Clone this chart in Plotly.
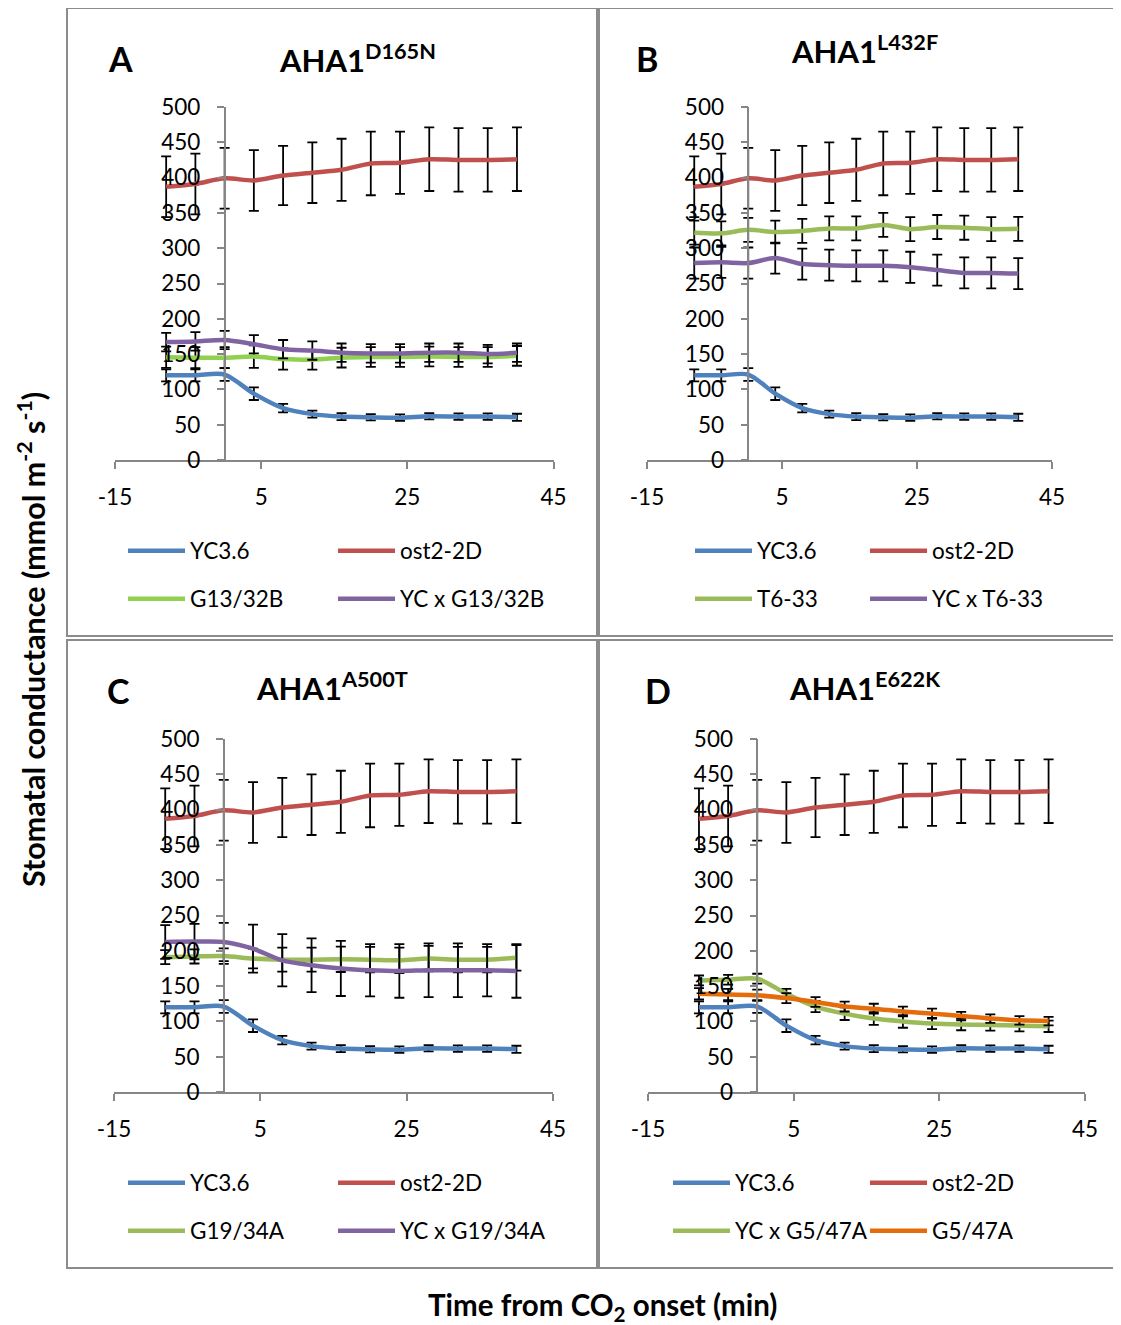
import plotly.graph_objects as go

# ---------------- data ----------------
time_min = [-8, -4, 0, 4, 8, 12, 16, 20, 24, 28, 32, 36, 40]

yc36 = [120, 120, 121, 94, 73.5, 65, 61.5, 60.5, 60, 62, 61.5, 61.5, 60.5]
yc36_err = [8.5, 8.5, 9, 9, 6, 5, 5, 4.5, 4.5, 4.5, 4.5, 4.5, 5]

ost2_2d = [387, 391, 399, 396, 403, 407, 411, 420, 421, 426, 425, 425, 426]
ost2_2d_err = [43, 43, 43, 43, 42, 43, 44, 45, 44, 45, 45, 45, 45]

# Panel A
g13_32b = [145.5, 145, 145, 146.5, 143, 142, 145, 146, 146, 146.5, 146, 146, 147.5]
g13_32b_err = [15, 15, 15, 16, 15, 14, 14, 14, 14, 14, 14, 14, 14]
yc_g13_32b = [167, 168, 170, 164, 157, 155, 152, 151, 151, 152, 152, 150, 152]
yc_g13_32b_err = [13, 13, 13, 13, 13, 13, 13, 13, 13, 13, 13, 13, 13]

# Panel B
t6_33 = [322, 321, 326, 323, 324.5, 328, 328, 333, 327, 330, 329, 327, 327.5]
t6_33_err = [17, 17, 17, 16, 17, 17, 17, 17, 17, 17, 17, 17, 17]
yc_t6_33 = [279, 280, 279, 286, 277.5, 276, 275, 275, 273, 269, 265, 265, 264]
yc_t6_33_err = [22, 22, 22, 22, 22, 22, 22, 22, 22, 22, 22, 22, 22]

# Panel C
g19_34a = [191, 192, 192.5, 189, 187.5, 187.5, 188, 187.5, 186.5, 189, 187.5, 187.5, 190]
g19_34a_err = [10, 10, 11, 14, 17, 17, 18, 18, 18, 18, 18, 18, 18]
yc_g19_34a = [212.5, 213, 212.5, 203, 186.5, 179.5, 175, 172.5, 171.5, 172.5, 172.5, 172.5, 171.5]
yc_g19_34a_err = [24, 25, 27, 34, 37, 38, 39, 37, 38, 38, 38, 37, 38]

# Panel D
yc_g5_47a = [158, 159, 160.5, 139, 121, 111, 104, 100, 97, 95.5, 95, 94, 93]
yc_g5_47a_err = [7, 7, 7, 7, 8, 9, 9, 9, 8, 8, 8, 8, 8]
g5_47a = [139, 138, 137, 133, 127.5, 121, 118, 114, 111, 107.5, 104, 101.5, 100.5]
g5_47a_err = [8, 8, 8, 7, 7, 7, 7, 7, 7, 6, 6, 6, 6]

x_ticks = [-15, 5, 25, 45]
x_tick_labels = ["-15", "5", "25", "45"]
y_ticks = [0, 50, 100, 150, 200, 250, 300, 350, 400, 450, 500]

panel_letters = ["A", "B", "C", "D"]
panel_titles = ["AHA1<sup>D165N</sup>", "AHA1<sup>L432F</sup>",
                "AHA1<sup>A500T</sup>", "AHA1<sup>E622K</sup>"]

BLUE = "#4F81BD"
RED = "#C0504D"
LIME = "#92D050"
OLIVE = "#9BBB59"
PURPLE = "#8064A2"
ORANGE = "#E46C0A"

panels = [
    [("YC3.6", yc36, yc36_err, BLUE), ("ost2-2D", ost2_2d, ost2_2d_err, RED),
     ("G13/32B", g13_32b, g13_32b_err, LIME), ("YC x G13/32B", yc_g13_32b, yc_g13_32b_err, PURPLE)],
    [("YC3.6", yc36, yc36_err, BLUE), ("ost2-2D", ost2_2d, ost2_2d_err, RED),
     ("T6-33", t6_33, t6_33_err, OLIVE), ("YC x T6-33", yc_t6_33, yc_t6_33_err, PURPLE)],
    [("YC3.6", yc36, yc36_err, BLUE), ("ost2-2D", ost2_2d, ost2_2d_err, RED),
     ("G19/34A", g19_34a, g19_34a_err, OLIVE), ("YC x G19/34A", yc_g19_34a, yc_g19_34a_err, PURPLE)],
    [("YC3.6", yc36, yc36_err, BLUE), ("ost2-2D", ost2_2d, ost2_2d_err, RED),
     ("YC x G5/47A", yc_g5_47a, yc_g5_47a_err, OLIVE), ("G5/47A", g5_47a, g5_47a_err, ORANGE)],
]

# ---------------- layout geometry (page pixels) ----------------
# The page body has an 8 px margin, so the figure is 8 px smaller and shifted.
OFF = 8
W, H = 1121 - OFF, 1325 - OFF
def fx(px):
    return (px - OFF) / W
def fy(py):
    return 1 - (py - OFF) / H

# plot areas: (x_left, x_right, y_top(500), y_bottom(0))
areas = [(115, 553.5, 107, 460), (647, 1052, 107, 460),
         (114, 553, 739, 1092), (648, 1085, 739, 1092)]
boxes = [(67, 8, 597, 636), (599, 8, 1130, 636), (67, 640, 597, 1268), (599, 640, 1130, 1268)]
letter_pos = [(120, 58), (647, 58), (118, 690), (658, 690)]
title_pos = [(357, 58), (864, 50), (332, 686), (865, 686)]
legend_cols = [(128, 338), (695, 870), (128, 338), (673, 870)]
legend_rows = [(551, 599), (551, 599), (1183, 1231), (1183, 1231)]

FONT = "Lato"
fig = go.Figure()
layout = dict(width=W, height=H,
              margin=dict(l=0, r=0, t=0, b=0, pad=0, autoexpand=False),
              template="none",
              paper_bgcolor="white", plot_bgcolor="rgba(0,0,0,0)",
              font=dict(family=FONT, size=22, color="black"),
              showlegend=True)

leg_idx = 0
for p, series in enumerate(panels):
    xl, xr, yt, yb = areas[p]
    xa = "x" if p == 0 else f"x{p+1}"
    ya = "y" if p == 0 else f"y{p+1}"
    xname = "xaxis" if p == 0 else f"xaxis{p+1}"
    yname = "yaxis" if p == 0 else f"yaxis{p+1}"
    zero_px = xl + (0 - (-15)) / 60 * (xr - xl)
    layout[xname] = dict(domain=[fx(xl), fx(xr)], range=[-15, 45], anchor=ya,
                         tickvals=x_ticks, ticktext=x_tick_labels, ticks="outside",
                         ticklen=7, tickwidth=1.5, automargin=False,
                         tickcolor="#868686", showline=True, linecolor="#868686", linewidth=1.5,
                         showgrid=False, zeroline=False, ticklabelstandoff=9,
                         tickfont=dict(family=FONT, size=22.5, color="black"))
    layout[yname] = dict(domain=[fy(yb), fy(yt)], range=[0, 500], anchor="free",
                         position=fx(zero_px), tickvals=y_ticks, ticks="outside", ticklen=7,
                         tickwidth=1.5, tickcolor="#868686", showline=True, automargin=False,
                         linecolor="#868686", linewidth=1.5, showgrid=False, zeroline=False,
                         ticklabelstandoff=12,
                         tickfont=dict(family=FONT, size=22.5, color="black"))
    for i, (name, vals, errs, col) in enumerate(series):
        leg_idx += 1
        lname = "legend" if leg_idx == 1 else f"legend{leg_idx}"
        fig.add_trace(go.Scatter(
            x=time_min, y=vals, name=name, mode="lines",
            line=dict(color=col, width=4.5, shape="spline", smoothing=0.8),
            error_y=dict(type="data", array=errs, visible=True, color="black",
                         thickness=1.8, width=5),
            xaxis=xa, yaxis=ya, legend=lname))
        col_px = legend_cols[p][i % 2]
        row_px = legend_rows[p][i // 2]
        layout[lname] = dict(x=fx(col_px - 5), y=fy(row_px), xanchor="left", yanchor="middle",
                             orientation="h", bgcolor="rgba(0,0,0,0)", borderwidth=0,
                             itemwidth=57, font=dict(family=FONT, size=22.5, color="black"))

shapes = []
for (x0, y0, x1, y1) in boxes:
    shapes.append(dict(type="rect", xref="paper", yref="paper", x0=fx(x0), x1=fx(x1),
                       y0=fy(y0), y1=fy(y1), line=dict(color="#8C8C8C", width=2)))
layout["shapes"] = shapes

ann = []
for p in range(4):
    ann.append(dict(text=f"<b>{panel_letters[p]}</b>", x=fx(letter_pos[p][0]), y=fy(letter_pos[p][1]),
                    xref="paper", yref="paper", showarrow=False, xanchor="center", yanchor="middle",
                    font=dict(family=FONT, size=34, color="black")))
    ann.append(dict(text=f"<b>{panel_titles[p]}</b>", x=fx(title_pos[p][0]), y=fy(title_pos[p][1]),
                    xref="paper", yref="paper", showarrow=False, xanchor="center", yanchor="middle",
                    font=dict(family=FONT, size=31, color="black")))
ann.append(dict(text="<b>Stomatal conductance (mmol m<sup>-2</sup> s<sup>-1</sup>)</b>",
                x=fx(31), y=fy(640), xref="paper", yref="paper", showarrow=False,
                textangle=-90, xanchor="center", yanchor="middle",
                font=dict(family=FONT, size=30.5, color="black")))
ann.append(dict(text="<b>Time from CO<sub>2</sub> onset (min)</b>",
                x=fx(602), y=fy(1306), xref="paper", yref="paper", showarrow=False,
                xanchor="center", yanchor="middle",
                font=dict(family=FONT, size=29.5, color="black")))
layout["annotations"] = ann

fig.update_layout(**layout)
fig.write_html("out.html")
